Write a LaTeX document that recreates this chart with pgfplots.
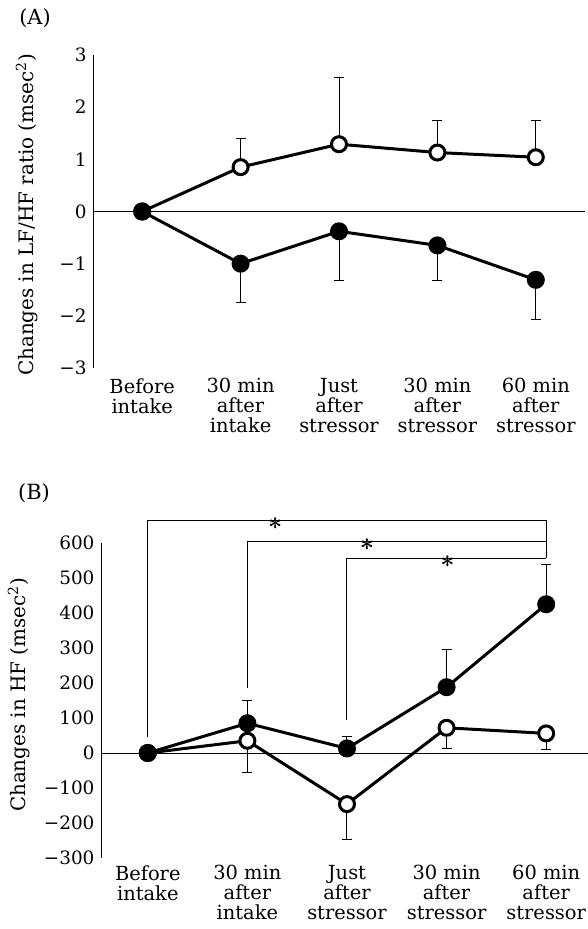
\documentclass[border=0pt]{standalone}
\usepackage{fontspec}
\setmainfont{DejaVu Serif}
\usepackage{pgfplots}
\pgfplotsset{compat=1.18}
\pgfplotsset{
  panel/.style={
    scale only axis, clip=false,
    axis lines=left, axis line style={-, line width=1bp},
    x axis line style={draw=none},
    major tick length=0pt,
    xtick={0,1,2,3,4},
    xticklabels={Before\\intake, 30 min\\after\\intake, Just\\after\\stressor, 30 min\\after\\stressor, 60 min\\after\\stressor},
    xticklabel style={align=center, anchor=north, font=\fontsize{19.5}{20}\selectfont},
    yticklabel style={font=\fontsize{18.5}{20}\selectfont, anchor=east, xshift=-3bp},
  },
  dataline/.style={black, line width=3bp, mark=*, mark size=7.5bp, mark options={line width=1.5bp}},
  ebars/.style={draw=none, forget plot, error bars/.cd, y dir=#1, y explicit,
    error bar style={draw=black, solid, line width=1bp},
    error mark options={draw=black, rotate=90, mark size=5bp, line width=1bp}},
}
\tikzset{sigstar/.style={font=\fontsize{30}{30}\selectfont\boldmath, inner sep=0pt, yshift=-3bp}}
\begin{document}
\begin{tikzpicture}
\useasboundingbox (0,0) rectangle (588bp,929bp);
\node[font=\fontsize{21}{22}\selectfont] at (35bp,911bp) {(A)};
\node[font=\fontsize{21}{22}\selectfont] at (34bp,436bp) {(B)};
\node[rotate=90, font=\fontsize{20}{22}\selectfont] at (27bp,714bp) {Changes in LF/HF ratio (msec\textsuperscript{2})};
\node[rotate=90, font=\fontsize{20}{22}\selectfont] at (19bp,234bp) {Changes in HF (msec\textsuperscript{2})};

% Panel A
\begin{axis}[panel, at={(93bp,561bp)}, anchor=south west, width=492bp, height=313bp,
  xmin=-0.5, xmax=4.5, ymin=-3, ymax=3,
  ytick={-3,-2,-1,0,1,2,3}, yticklabels={−3,−2,−1,0,1,2,3},
  xticklabel style={yshift=-7bp}]
\addplot[black, line width=1bp, no marks, forget plot] coordinates {(-0.5,0) (4.5,0)};
\addplot[ebars=plus] coordinates {(1,0.85) +- (0,0.55) (2,1.29) +- (0,1.28) (3,1.13) +- (0,0.62) (4,1.04) +- (0,0.71)};
\addplot[ebars=minus] coordinates {(1,-1.00) +- (0,0.75) (2,-0.38) +- (0,0.95) (3,-0.65) +- (0,0.68) (4,-1.31) +- (0,0.77)};
\addplot[dataline, mark options={fill=white}] coordinates {(0,0) (1,0.85) (2,1.29) (3,1.13) (4,1.04)};
\addplot[dataline, mark options={fill=black}] coordinates {(0,0) (1,-1.00) (2,-0.38) (3,-0.65) (4,-1.31)};
\end{axis}

% Panel B
\begin{axis}[panel, at={(101bp,71bp)}, anchor=south west, width=487bp, height=315bp,
  xmin=-0.47, xmax=4.42, ymin=-300, ymax=600,
  ytick={-300,-200,-100,0,100,200,300,400,500,600},
  yticklabels={−300,−200,−100,0,100,200,300,400,500,600},
  xticklabel style={yshift=-4bp}]
\addplot[black, line width=1bp, no marks, forget plot] coordinates {(-0.47,0) (4.42,0)};
% significance brackets
\addplot[black, line width=1bp, no marks, forget plot] coordinates {(0,47) (0,664) (4,664) (4,556)};
\addplot[black, line width=1bp, no marks, forget plot] coordinates {(1,186) (1,604) (4,604)};
\addplot[black, line width=1bp, no marks, forget plot] coordinates {(2,94) (2,556) (4,556)};
\node[sigstar] at (axis cs:1.28,664) {\raisebox{-0.32em}{$\ast$}};
\node[sigstar] at (axis cs:2.20,604) {\raisebox{-0.32em}{$\ast$}};
\node[sigstar] at (axis cs:3.01,556) {\raisebox{-0.32em}{$\ast$}};
\addplot[ebars=minus] coordinates {(1,35) +- (0,91) (2,-146) +- (0,100) (3,72) +- (0,59) (4,56) +- (0,45)};
\addplot[ebars=plus] coordinates {(1,85) +- (0,66) (2,13) +- (0,34) (3,188) +- (0,109) (4,425) +- (0,114)};
\addplot[dataline, mark options={fill=white}] coordinates {(0,0) (1,35) (2,-146) (3,72) (4,56)};
\addplot[dataline, mark options={fill=black}] coordinates {(0,0) (1,85) (2,13) (3,188) (4,425)};
\end{axis}
\end{tikzpicture}
\end{document}
